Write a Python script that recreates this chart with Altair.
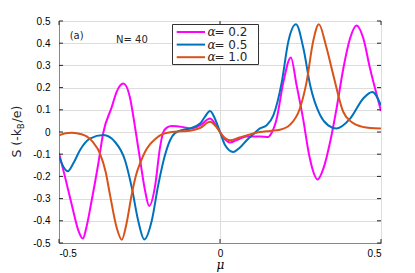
import altair as alt
import pandas as pd

# ---------------- data ----------------
series_names = ["0.2", "0.5", "1.0"]
legend_labels = ["= 0.2", "= 0.5", "= 1.0"]
colors = ["#FF00FF", "#0072BD", "#D95319"]

mu_a02 = [-0.5, -0.48, -0.46, -0.44, -0.426, -0.415, -0.4, -0.38, -0.362, -0.336, -0.321, -0.30,
          -0.28, -0.264, -0.248, -0.233, -0.22, -0.202, -0.186, -0.176, -0.165, -0.15, -0.114,
          -0.093, -0.062, -0.031, -0.016, 0.0, 0.016, 0.031, 0.052, 0.083, 0.124, 0.15, 0.16,
          0.176, 0.197, 0.22, 0.238, 0.258, 0.277, 0.29, 0.303, 0.321, 0.342, 0.362, 0.383,
          0.404, 0.424, 0.445, 0.466, 0.487, 0.5]
s_a02 = [-0.094, -0.21, -0.33, -0.443, -0.48, -0.43, -0.32, -0.16, 0.0, 0.113, 0.181, 0.218,
         0.158, 0.023, -0.127, -0.262, -0.333, -0.247, -0.067, 0.0, 0.02, 0.027, 0.022,
         0.016, 0.03, 0.061, 0.038, 0.0, -0.034, -0.047, -0.036, -0.02, -0.02, -0.022, -0.005,
         0.06, 0.226, 0.336, 0.21, 0.06, -0.105, -0.18, -0.214, -0.165, -0.045, 0.106, 0.286,
         0.422, 0.48, 0.422, 0.286, 0.166, 0.095]

mu_a05 = [-0.5, -0.485, -0.473, -0.455, -0.435, -0.404, -0.362, -0.326, -0.295, -0.274, -0.254,
          -0.235, -0.212, -0.192, -0.171, -0.155, -0.14, -0.115, -0.093, -0.062, -0.047, -0.031,
          -0.016, 0.0, 0.016, 0.041, 0.062, 0.083, 0.103, 0.124, 0.145, 0.166, 0.192, 0.212,
          0.236, 0.259, 0.28, 0.311, 0.336, 0.362, 0.404, 0.445, 0.473, 0.5]
s_a05 = [-0.11, -0.16, -0.177, -0.14, -0.082, -0.03, -0.014, -0.045, -0.127, -0.25, -0.4,
         -0.484, -0.4, -0.24, -0.105, -0.037, -0.005, 0.01, 0.016, 0.038, 0.068, 0.095,
         0.061, 0.0, -0.06, -0.09, -0.07, -0.037, -0.01, 0.016, 0.03, 0.076, 0.226, 0.406,
         0.485, 0.377, 0.211, 0.076, 0.03, 0.016, 0.06, 0.151, 0.18, 0.12]

mu_a10 = [-0.5, -0.48, -0.46, -0.43, -0.414, -0.395, -0.373, -0.355, -0.342, -0.321, -0.305,
          -0.29, -0.274, -0.26, -0.248, -0.233, -0.217, -0.2, -0.176, -0.15, -0.12, -0.093,
          -0.062, -0.031, -0.01, 0.01, 0.031, 0.06, 0.09, 0.124, 0.155, 0.186, 0.217, 0.248,
          0.269, 0.289, 0.307, 0.329, 0.352, 0.383, 0.404, 0.424, 0.466, 0.5]
s_a10 = [-0.015, -0.006, -0.003, -0.01, -0.02, -0.045, -0.096, -0.18, -0.28, -0.43, -0.485,
         -0.41, -0.28, -0.19, -0.14, -0.09, -0.055, -0.03, -0.008, 0.0, 0.003, 0.006,
         0.018, 0.046, 0.02, -0.02, -0.037, -0.025, -0.012, 0.0, 0.005, 0.01, 0.032, 0.106,
         0.226, 0.406, 0.485, 0.39, 0.256, 0.09, 0.05, 0.032, 0.018, 0.016]

y_ticks = [-0.5, -0.4, -0.3, -0.2, -0.1, 0.0, 0.1, 0.2, 0.3, 0.4, 0.5]
x_ticks = [-0.5, 0.0, 0.5]

# ---------------- build tables ----------------
rows = []
for name, mus, ss in zip(series_names, [mu_a02, mu_a05, mu_a10], [s_a02, s_a05, s_a10]):
    for m, s in zip(mus, ss):
        rows.append({"series": name, "mu": m, "S": s})
df = pd.DataFrame(rows)

W, H = 322, 222
FONT = "DejaVu Sans"
INK = "#262626"

xscale = alt.Scale(domain=[-0.5, 0.5], nice=False, zero=False)
yscale = alt.Scale(domain=[-0.5, 0.5], nice=False, zero=False)
lab_expr = ("datum.value == 0 ? '0' : (datum.value < 0 ? '-' + format(-datum.value, '.1f') "
            ": format(datum.value, '.1f'))")

x_axis = alt.Axis(values=x_ticks, title="μ", grid=True, ticks=False, labelExpr=lab_expr,
                  labelPadding=5, titlePadding=1, titleFont="DejaVu Serif", titleFontStyle="italic",
                  titleFontWeight="normal", titleFontSize=12)
y_axis = alt.Axis(values=y_ticks, title=None, grid=True, ticks=False, labelExpr=lab_expr,
                  labelPadding=9)

lines = alt.Chart(df).mark_line(strokeWidth=2, interpolate="monotone", clip=True).encode(
    x=alt.X("mu:Q", scale=xscale, axis=x_axis),
    y=alt.Y("S:Q", scale=yscale, axis=y_axis),
    color=alt.Color("series:N", scale=alt.Scale(domain=series_names, range=colors), legend=None),
)

# inward tick marks (MATLAB style)
ydf = pd.DataFrame({"S": y_ticks})
xdf = pd.DataFrame({"mu": x_ticks})
tick_layers = [
    alt.Chart(ydf).mark_rule(color=INK, strokeWidth=1).encode(
        y=alt.Y("S:Q", scale=yscale, axis=y_axis), x=alt.value(0), x2=alt.value(4)),
    alt.Chart(ydf).mark_rule(color=INK, strokeWidth=1).encode(
        y=alt.Y("S:Q", scale=yscale, axis=y_axis), x=alt.value(W - 4), x2=alt.value(W)),
    alt.Chart(xdf).mark_rule(color=INK, strokeWidth=1).encode(
        x=alt.X("mu:Q", scale=xscale, axis=x_axis), y=alt.value(H), y2=alt.value(H - 4)),
    alt.Chart(xdf).mark_rule(color=INK, strokeWidth=1).encode(
        x=alt.X("mu:Q", scale=xscale, axis=x_axis), y=alt.value(0), y2=alt.value(4)),
]

one = pd.DataFrame({"k": [0]})

# legend box
legend_layers = [
    alt.Chart(one).mark_rect(fill="white", stroke="#333333", strokeWidth=1).encode(
        x=alt.value(113.5), x2=alt.value(199.5), y=alt.value(3.5), y2=alt.value(43.5))
]
row_y = [11, 23.6, 36.2]
for lab, col, ry in zip(legend_labels, colors, row_y):
    legend_layers.append(
        alt.Chart(one).mark_rule(color=col, strokeWidth=2).encode(
            x=alt.value(117.7), x2=alt.value(146), y=alt.value(ry)))
    legend_layers.append(
        alt.Chart(one).mark_text(text="α", font="DejaVu Serif", fontStyle="italic", fontSize=12,
                                 align="left", baseline="middle", color=INK).encode(
            x=alt.value(148.5), y=alt.value(ry)))
    legend_layers.append(
        alt.Chart(one).mark_text(text=lab, font=FONT, fontSize=12, align="left",
                                 baseline="middle", color=INK).encode(
            x=alt.value(155.5), y=alt.value(ry)))

# annotations
notes = [
    alt.Chart(one).mark_text(text="(a)", font=FONT, fontSize=10, align="left",
                             baseline="middle", color=INK).encode(x=alt.value(10.7), y=alt.value(15)),
    alt.Chart(one).mark_text(text="N= 40", font=FONT, fontSize=10, align="left",
                             baseline="middle", color=INK).encode(x=alt.value(57), y=alt.value(19)),
]

# y-axis title with subscript: S (-k_B/e)
ytitle = [
    alt.Chart(one).mark_text(text="S (-k", font=FONT, fontSize=12.5, angle=270, align="right",
                             baseline="middle", color=INK).encode(x=alt.value(-42.5), y=alt.value(108)),
    alt.Chart(one).mark_text(text="B", font=FONT, fontSize=8, angle=270, align="left",
                             baseline="middle", color=INK).encode(x=alt.value(-37.5), y=alt.value(108)),
    alt.Chart(one).mark_text(text="/e)", font=FONT, fontSize=12.5, angle=270, align="left",
                             baseline="middle", color=INK).encode(x=alt.value(-42.5), y=alt.value(101.5)),
]

chart = alt.layer(lines, *tick_layers, *legend_layers, *notes, *ytitle).properties(
    width=W, height=H,
    autosize=alt.AutoSizeParams(type="none"),
    padding={"left": 51, "top": 13, "right": 20, "bottom": 30},
).configure_view(
    stroke=INK, strokeWidth=1
).configure_axis(
    domainColor=INK, domainWidth=1, gridColor="#e8e8e8", gridWidth=1,
    labelFont=FONT, labelFontSize=10.5, labelColor=INK, titleColor=INK,
).configure(background="white")

chart.save("out.html", embed_options={"renderer": "svg", "actions": False})
